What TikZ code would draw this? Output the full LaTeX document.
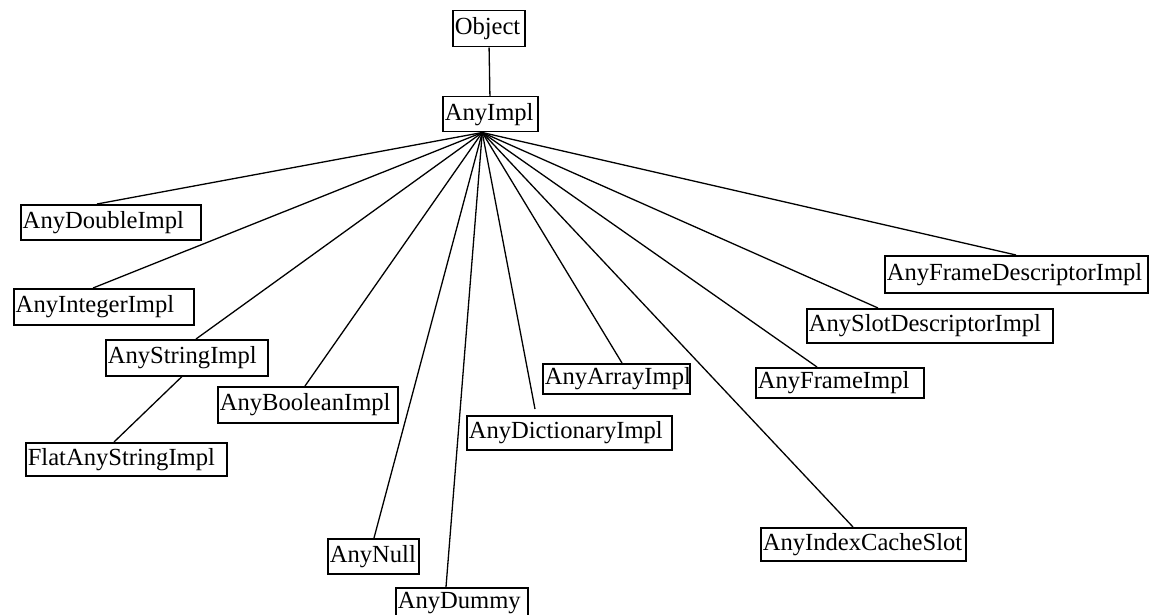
\documentclass[tikz,border=0pt]{standalone}
\usepackage{fontspec}
\setmainfont{Liberation Serif}
\begin{document}
\begin{tikzpicture}[x=1pt,y=-1pt,
	cls/.style={draw, line width=1.5pt, anchor=north west, inner xsep=2pt, inner ysep=0pt,
		align=left, font=\fontsize{24.6}{26}\selectfont},
	link/.style={line width=1.3pt}]
	\useasboundingbox (0,0) rectangle (1149,615);

	% root and base class
	\node[cls, text width=68pt, minimum height=36pt] (Object) at (452,10) {Object};
	\node[cls, text width=91pt, minimum height=35pt] (AnyImpl) at (442,96) {AnyImpl};
	\draw[link] (Object) -- (AnyImpl);

	% subclasses
	\node[cls, text width=176pt, minimum height=35pt] (AnyDoubleImpl) at (20,204) {AnyDoubleImpl};
	\node[cls, text width=176pt, minimum height=36pt] (AnyIntegerImpl) at (13,288) {AnyIntegerImpl};
	\node[cls, text width=158pt, minimum height=36pt] (AnyStringImpl) at (105,339) {AnyStringImpl};
	\node[cls, text width=197pt, minimum height=33pt] (FlatAnyStringImpl) at (25,442) {FlatAnyStringImpl};
	\node[cls, text width=176pt, minimum height=36pt] (AnyBooleanImpl) at (217,386) {AnyBooleanImpl};
	\node[cls, text width=87pt, minimum height=35pt] (AnyNull) at (327,538) {AnyNull};
	\node[cls, text width=128pt, minimum height=30pt] (AnyDummy) at (395,587) {AnyDummy};
	\node[cls, text width=201pt, minimum height=34pt] (AnyDictionaryImpl) at (466,415) {AnyDictionaryImpl};
	\node[cls, text width=143pt, minimum height=30pt] (AnyArrayImpl) at (542,363) {AnyArrayImpl};
	\node[cls, text width=164pt, minimum height=30pt] (AnyFrameImpl) at (755,367) {AnyFrameImpl};
	\node[cls, text width=242pt, minimum height=34pt] (AnySlotDescriptorImpl) at (806,308) {AnySlotDescriptorImpl};
	\node[cls, text width=259pt, minimum height=37pt] (AnyFrameDescriptorImpl) at (884,255) {AnyFrameDescriptorImpl};
	\node[cls, text width=201pt, minimum height=33pt] (AnyIndexCacheSlot) at (760,527) {AnyIndexCacheSlot};

	% fan of links out of AnyImpl
	\coordinate (hub) at ([xshift=-8pt]AnyImpl.south);
	\draw[link] (hub) -- ([xshift=77pt]AnyDoubleImpl.north west);
	\draw[link] (hub) -- ([xshift=80pt]AnyIntegerImpl.north west);
	\draw[link] (hub) -- ([xshift=91pt]AnyStringImpl.north west);
	\draw[link] (hub) -- ([xshift=88pt]AnyBooleanImpl.north west);
	\draw[link] (hub) -- ([xshift=47pt]AnyNull.north west);
	\draw[link] (hub) -- ([xshift=51pt]AnyDummy.north west);
	\draw[link] (hub) -- ([xshift=69pt,yshift=6pt]AnyDictionaryImpl.north west);
	\draw[link] (hub) -- ([xshift=80pt]AnyArrayImpl.north west);
	\draw[link] (hub) -- ([xshift=62pt]AnyFrameImpl.north west);
	\draw[link] (hub) -- ([xshift=72pt]AnySlotDescriptorImpl.north west);
	\draw[link] (hub) -- ([xshift=132pt]AnyFrameDescriptorImpl.north west);
	\draw[link] (hub) -- ([xshift=93pt]AnyIndexCacheSlot.north west);

	% FlatAnyStringImpl hangs below AnyStringImpl
	\draw[link] ([xshift=77pt]AnyStringImpl.south west) -- ([xshift=89pt]FlatAnyStringImpl.north west);

\end{tikzpicture}
\end{document}
